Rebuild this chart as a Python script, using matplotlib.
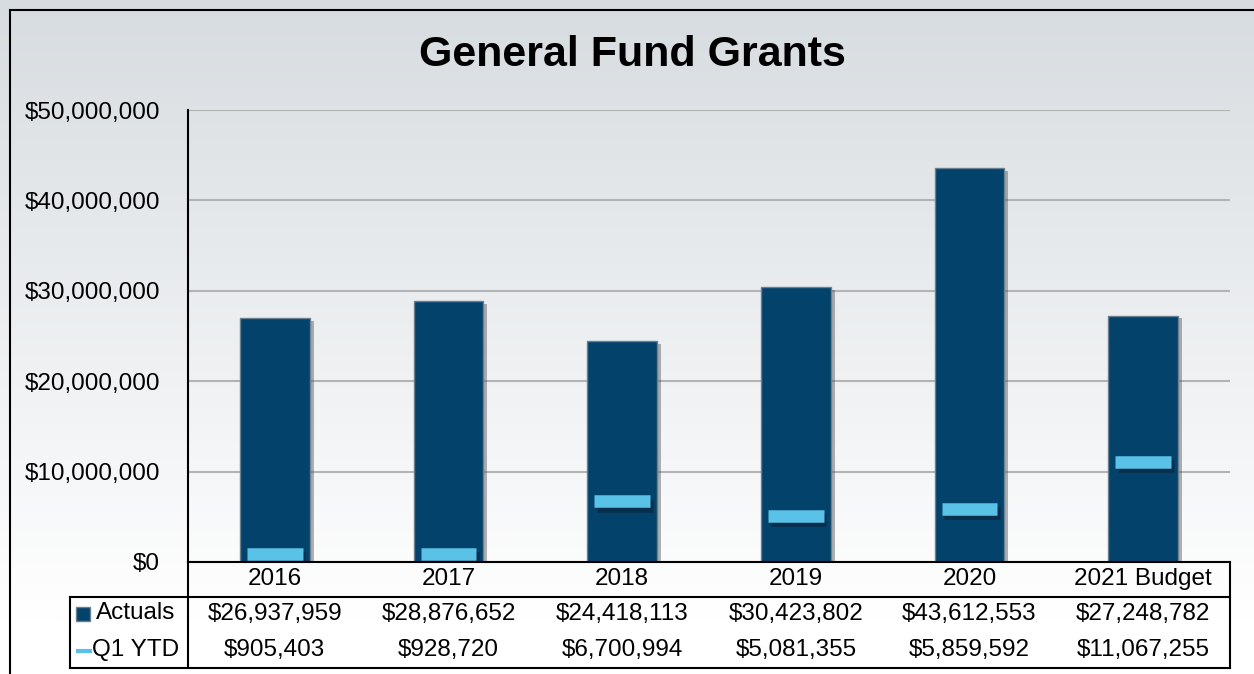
import matplotlib.pyplot as plt
import matplotlib.patheffects as pe
import numpy as np
from matplotlib.lines import Line2D
from matplotlib.patches import Rectangle
from matplotlib.transforms import blended_transform_factory

plt.rcParams['font.family'] = ['Liberation Sans', 'DejaVu Sans']

years = ["2016", "2017", "2018", "2019", "2020", "2021 Budget"]
actuals = [26937959, 28876652, 24418113, 30423802, 43612553, 27248782]
q1_ytd = [905403, 928720, 6700994, 5081355, 5859592, 11067255]
yticks = [0, 10000000, 20000000, 30000000, 40000000, 50000000]

W, H = 1254, 674
fig = plt.figure(figsize=(W / 100, H / 100), dpi=100)

# background gradient
bg = fig.add_axes([0, 0, 1, 1], zorder=-10)
top = np.array([0.843, 0.863, 0.878])
rows = np.linspace(0, 1, 300)
t = np.clip(rows / 0.92, 0, 1)[:, None]
grad = top * (1 - t) + np.array([1.0, 1.0, 1.0]) * t
bg.imshow(grad[:, None, :], aspect='auto', extent=[0, 1, 0, 1], origin='upper')
bg.set_axis_off()

# outer frame
fig.add_artist(Rectangle((10 / W, -0.1), 1.2, 1 - 10 / H + 0.1, transform=fig.transFigure,
                         fill=False, edgecolor='black', linewidth=1.5))


def fx(px):
    return px / W


def fy(py):
    return 1 - py / H


left, right, ytop, ybot = 188, 1230, 110, 562
ax = fig.add_axes([fx(left), fy(ybot), fx(right - left), (ybot - ytop) / H])
ax.set_facecolor('none')

x = np.arange(len(years))
ax.bar(x, actuals, width=0.40, color='#03426b', edgecolor='#6a7f90', linewidth=1, zorder=3,
       path_effects=[pe.SimplePatchShadow(offset=(3, -2), shadow_rgbFace='#555555', alpha=0.45),
                     pe.Normal()])
ax.plot(x, q1_ytd, linestyle='none', marker='_', markersize=40, markeredgewidth=9,
        color='#5bc2e7', zorder=4,
        path_effects=[pe.SimpleLineShadow(offset=(2, -3), shadow_color='#0a2238', alpha=0.6),
                      pe.Normal()])

ax.set_xlim(-0.5, len(years) - 0.5)
ax.set_ylim(0, 50000000)
ax.set_yticks(yticks)
ax.set_yticklabels(["${:,.0f}".format(v) for v in yticks], fontsize=17.5)
ax.tick_params(axis='y', length=0, pad=20)
ax.set_xticks([])
ax.grid(axis='y', color='#b3b3b3', linewidth=1.5, zorder=0)
ax.set_axisbelow(True)
for s in ['top', 'right', 'bottom']:
    ax.spines[s].set_visible(False)
ax.spines['left'].set_linewidth(1.5)

fig.text(0.504, fy(55), "General Fund Grants", ha='center', va='center',
         fontsize=31, fontweight='bold')

# data table below the axis
tr = blended_transform_factory(ax.transData, fig.transFigure)
hdr_bot, tbl_bot, lab_left = 597, 668, 70
lw = 1.5
fig.add_artist(Line2D([fx(left), fx(right)], [fy(ybot), fy(ybot)], color='black', lw=lw, transform=fig.transFigure))
fig.add_artist(Line2D([fx(lab_left), fx(right)], [fy(hdr_bot), fy(hdr_bot)], color='black', lw=lw, transform=fig.transFigure))
fig.add_artist(Line2D([fx(lab_left), fx(right)], [fy(tbl_bot), fy(tbl_bot)], color='black', lw=lw, transform=fig.transFigure))
fig.add_artist(Line2D([fx(left), fx(left)], [fy(ybot), fy(tbl_bot)], color='black', lw=lw, transform=fig.transFigure))
fig.add_artist(Line2D([fx(right), fx(right)], [fy(ybot), fy(tbl_bot)], color='black', lw=lw, transform=fig.transFigure))
fig.add_artist(Line2D([fx(lab_left), fx(lab_left)], [fy(hdr_bot), fy(tbl_bot)], color='black', lw=lw, transform=fig.transFigure))

for i, yr in enumerate(years):
    fig.text(x[i], fy(579), yr, ha='center', va='center', fontsize=17.5, transform=tr)
    fig.text(x[i], fy(614), "${:,.0f}".format(actuals[i]), ha='center', va='center', fontsize=17.5, transform=tr)
    fig.text(x[i], fy(650), "${:,.0f}".format(q1_ytd[i]), ha='center', va='center', fontsize=17.5, transform=tr)

fig.add_artist(Line2D([fx(83)], [fy(614)], marker='s', markersize=9.5, color='#03426b',
                      markeredgecolor='#6a7f90', linestyle='none', transform=fig.transFigure))
fig.add_artist(Line2D([fx(84)], [fy(651)], marker='_', markersize=11, markeredgewidth=3,
                      color='#5bc2e7', linestyle='none', transform=fig.transFigure))
fig.text(fx(96), fy(613), "Actuals", ha='left', va='center', fontsize=17.5)
fig.text(fx(92), fy(650), "Q1 YTD", ha='left', va='center', fontsize=17.5)

fig.savefig("out.png", dpi=100)
